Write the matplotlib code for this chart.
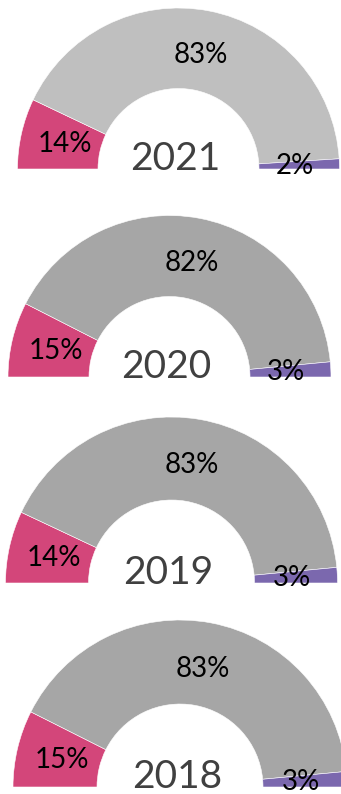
import numpy as np
import matplotlib
matplotlib.use('Agg')
import matplotlib.pyplot as plt
from matplotlib.patches import Wedge

# ── data ──────────────────────────────────────────────
years = ['2021', '2020', '2019', '2018']
share_pink = [14, 15, 14, 15]
share_gray = [83, 82, 83, 83]
share_purple = [2, 3, 3, 3]

# ── style ─────────────────────────────────────────────
plt.rcParams['font.family'] = ['Lato', 'DejaVu Sans']
PINK = '#D3467A'
PURPLE = '#7B68AE'
GRAYS = ['#BFBFBF', '#A6A6A6', '#A6A6A6', '#A6A6A6']

# gauge layout in pixels: centre x, baseline y, outer radius, inner radius
layout = [
    (178.5, 169, 161, 80.5),
    (169.5, 377, 161.5, 80.5),
    (171.5, 583, 166, 83),
    (180.0, 787, 167, 83),
]

W, H = 341, 794
fig = plt.figure(figsize=(W / 100, H / 100), dpi=100)
ax = fig.add_axes([0, 0, 1, 1])
ax.set_xlim(0, W)
ax.set_ylim(H, 0)
ax.set_aspect('equal')
ax.axis('off')


def gauge(ax, cx, cy, R, r, values, colors, year):
    total = float(sum(values))
    start = 180.0
    lab_r = (R + r) / 2 - 4
    for v, c in zip(values, colors):
        span = 180.0 * v / total
        end = start - span
        # y axis is flipped, so mirror the angles
        ax.add_patch(Wedge((cx, cy), R, -start, -end, width=R - r,
                           facecolor=c, edgecolor='white', linewidth=0.4))
        mid = np.deg2rad((start + end) / 2)
        ax.text(cx + lab_r * np.cos(mid), cy - lab_r * np.sin(mid) + 1, f'{v}%',
                ha='center', va='center', fontsize=20, color='#000000')
        start = end
    ax.text(cx - 3, cy - 10, year, ha='center', va='center',
            fontsize=28, color='#404040')


for i, yr in enumerate(years):
    cx, cy, R, r = layout[i]
    vals = [share_pink[i], share_gray[i], share_purple[i]]
    gauge(ax, cx, cy, R, r, vals, [PINK, GRAYS[i], PURPLE], yr)

fig.savefig('out.png', dpi=100, facecolor='white')
